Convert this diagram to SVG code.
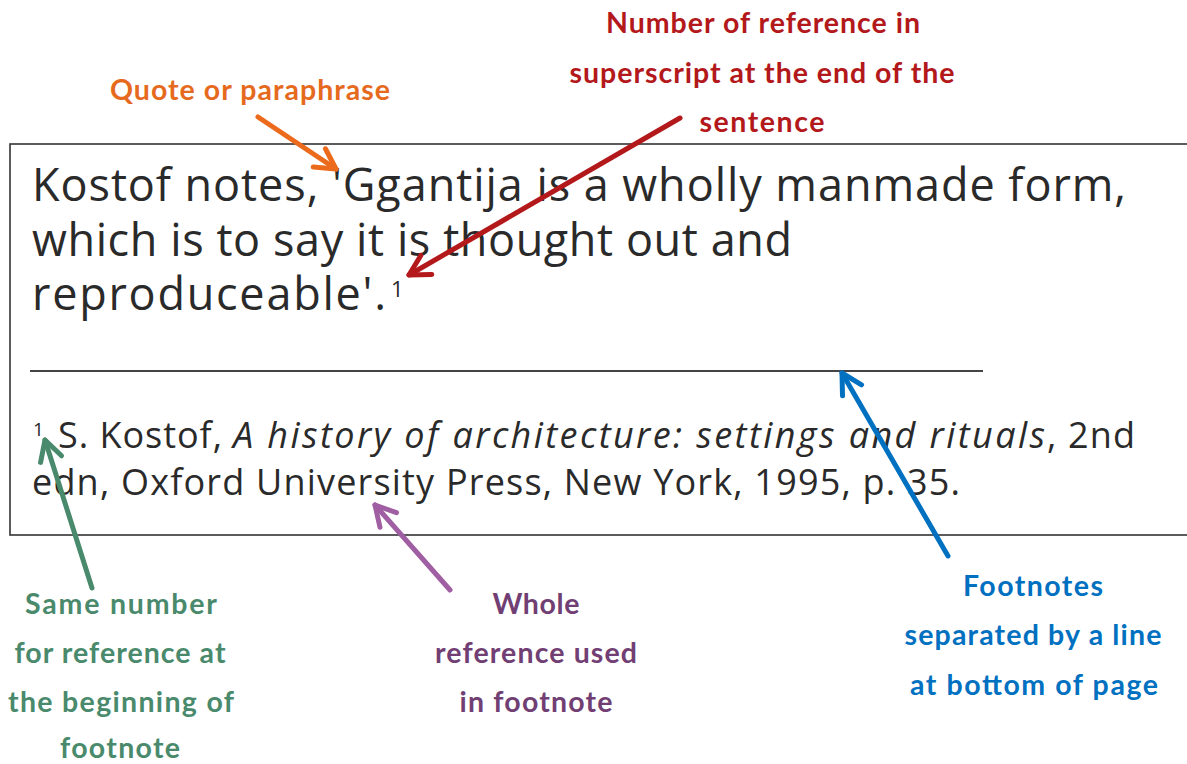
<svg xmlns="http://www.w3.org/2000/svg" width="1187" height="764" viewBox="0 0 1187 764">
<style>
.main{font-family:"Open Sans","Liberation Sans",sans-serif;font-size:45px;font-weight:400;fill:#2a2a2a}
.foot{font-family:"Open Sans","Liberation Sans",sans-serif;font-size:36px;font-weight:400;fill:#2a2a2a}
.sup{font-family:"Open Sans","Liberation Sans",sans-serif;font-size:22px;font-weight:400;fill:#2a2a2a}
.lbl{font-family:Lato,"Liberation Sans",sans-serif;font-size:28.5px;font-weight:bold;text-anchor:middle}
.arr{fill:none;stroke-width:5;stroke-linecap:round;stroke-linejoin:round}
</style>
<defs>
<marker id="mOrange" markerUnits="userSpaceOnUse" viewBox="-24 -14 28 28" refX="0" refY="0" markerWidth="28" markerHeight="28" orient="auto"><path d="M-20,-11 L0,0 L-20,11" fill="none" stroke="#EC6A1C" stroke-width="5" stroke-linecap="round" stroke-linejoin="round"/></marker>
<marker id="mRed" markerUnits="userSpaceOnUse" viewBox="-24 -14 28 28" refX="0" refY="0" markerWidth="28" markerHeight="28" orient="auto"><path d="M-20,-11 L0,0 L-20,11" fill="none" stroke="#B3181B" stroke-width="5" stroke-linecap="round" stroke-linejoin="round"/></marker>
<marker id="mGreen" markerUnits="userSpaceOnUse" viewBox="-24 -14 28 28" refX="0" refY="0" markerWidth="28" markerHeight="28" orient="auto"><path d="M-20,-11 L0,0 L-20,11" fill="none" stroke="#4A8A6C" stroke-width="5" stroke-linecap="round" stroke-linejoin="round"/></marker>
<marker id="mPurple" markerUnits="userSpaceOnUse" viewBox="-24 -14 28 28" refX="0" refY="0" markerWidth="28" markerHeight="28" orient="auto"><path d="M-20,-11 L0,0 L-20,11" fill="none" stroke="#A05FA3" stroke-width="5" stroke-linecap="round" stroke-linejoin="round"/></marker>
<marker id="mBlue" markerUnits="userSpaceOnUse" viewBox="-24 -14 28 28" refX="0" refY="0" markerWidth="28" markerHeight="28" orient="auto"><path d="M-20,-11 L0,0 L-20,11" fill="none" stroke="#0070C0" stroke-width="5" stroke-linecap="round" stroke-linejoin="round"/></marker>
</defs>
<rect width="1187" height="764" fill="#ffffff"/>
<g id="box">
<rect x="10" y="144" width="1200" height="391" fill="none" stroke="#333" stroke-width="1.6"/>
<text class="main" x="32" y="201" textLength="1094">Kostof notes, 'Ggantija is a wholly manmade form,</text>
<text class="main" x="32" y="256" textLength="760">which is to say it is thought out and</text>
<text class="main" x="32" y="310" textLength="354">reproduceable'.</text>
<text class="sup" x="391" y="297">1</text>
<line x1="30" y1="371" x2="983" y2="371" stroke="#444" stroke-width="2"/>
<text class="sup" x="33" y="436" style="font-size:19px">1</text>
<text class="foot" x="58" y="448" textLength="164">S. Kostof,</text>
<text class="foot" x="233" y="448" textLength="812" font-style="italic">A history of architecture: settings and rituals</text>
<text class="foot" x="1047" y="448" textLength="88">, 2nd</text>
<text class="foot" x="32" y="495" textLength="928">edn, Oxford University Press, New York, 1995, p. 35.</text>
</g>
<g id="label-quote">
<text class="lbl" x="250" y="100" fill="#E66A1E" textLength="280">Quote or paraphrase</text>
</g>
<g id="label-number">
<text class="lbl" fill="#B3181B"><tspan x="763" y="33" textLength="314">Number of reference in</tspan><tspan x="762" y="83" textLength="385">superscript at the end of the</tspan><tspan x="762" y="132" textLength="125">sentence</tspan></text>
</g>
<g id="label-same">
<text class="lbl" fill="#4A8A6C"><tspan x="121" y="614" textLength="192">Same number</tspan><tspan x="120" y="663" textLength="211">for reference at</tspan><tspan x="121" y="712" textLength="226">the beginning of</tspan><tspan x="120" y="758" textLength="120">footnote</tspan></text>
</g>
<g id="label-whole">
<text class="lbl" fill="#713F73"><tspan x="536" y="614" textLength="87">Whole</tspan><tspan x="536" y="663" textLength="202">reference used</tspan><tspan x="536" y="712" textLength="153">in footnote</tspan></text>
</g>
<g id="label-footnotes">
<text class="lbl" fill="#0070C0"><tspan x="1033" y="596" textLength="140">Footnotes</tspan><tspan x="1033" y="645" textLength="257">separated by a line</tspan><tspan x="1034" y="695" textLength="248">at bottom of page</tspan></text>
</g>
<g id="connectors">
<line class="arr" x1="258" y1="117" x2="336" y2="169" stroke="#EC6A1C" marker-end="url(#mOrange)"/>
<line class="arr" x1="680" y1="118" x2="409" y2="275" stroke="#B3181B" marker-end="url(#mRed)"/>
<line class="arr" x1="92" y1="588" x2="45" y2="440" stroke="#4A8A6C" marker-end="url(#mGreen)"/>
<line class="arr" x1="450" y1="590" x2="375" y2="505" stroke="#A05FA3" marker-end="url(#mPurple)"/>
<line class="arr" x1="948" y1="556" x2="842" y2="373" stroke="#0070C0" marker-end="url(#mBlue)"/>
</g>
</svg>
